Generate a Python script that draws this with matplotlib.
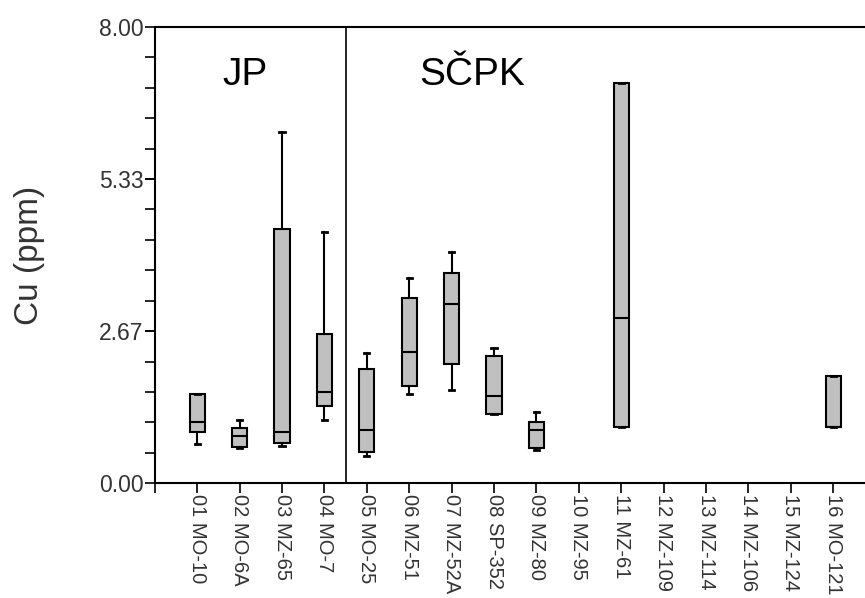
import numpy as np
import matplotlib
matplotlib.use("Agg")
import matplotlib.pyplot as plt
from matplotlib.ticker import MultipleLocator

plt.rcParams['font.family'] = ['Liberation Sans', 'DejaVu Sans']

# samples along the x axis
samples = ["01 MO-10", "02 MO-6A", "03 MZ-65", "04 MO-7", "05 MO-25",
           "06 MZ-51", "07 MZ-52A", "08 SP-352", "09 MZ-80", "10 MZ-95",
           "11 MZ-61", "12 MZ-109", "13 MZ-114", "14 MZ-106", "15 MZ-124",
           "16 MO-121"]

# box statistics (nan = no data for that sample)
nan = np.nan
whis_lo = [0.68, 0.61, 0.65, 1.11, 0.47, 1.56, 1.63, 1.21, 0.58, nan, 0.99, nan, nan, nan, nan, 0.99]
q1      = [0.89, 0.64, 0.71, 1.35, 0.54, 1.70, 2.09, 1.21, 0.61, nan, 0.99, nan, nan, nan, nan, 0.99]
median  = [1.08, 0.83, 0.90, 1.59, 0.93, 2.30, 3.14, 1.53, 0.93, nan, 2.90, nan, nan, nan, nan, 0.99]
q3      = [1.57, 0.96, 4.45, 2.61, 2.01, 3.25, 3.68, 2.23, 1.08, nan, 7.01, nan, nan, nan, nan, 1.88]
whis_hi = [1.57, 1.10, 6.16, 4.41, 2.29, 3.60, 4.06, 2.37, 1.24, nan, 7.01, nan, nan, nan, nan, 1.88]

y_ticks = [0.0, 2.67, 5.33, 8.0]
groups = ["JP", "SČPK"]

fig = plt.figure(figsize=(8.65, 5.98), dpi=100)
ax = fig.add_axes([0.179, 0.192, 0.821, 0.763])

stats, pos = [], []
for i in range(len(samples)):
    if np.isnan(median[i]):
        continue
    stats.append(dict(whislo=whis_lo[i], q1=q1[i], med=median[i],
                      q3=q3[i], whishi=whis_hi[i], fliers=[]))
    pos.append(i + 1)

ax.bxp(stats, positions=pos, widths=0.36, patch_artist=True, showfliers=False,
       boxprops=dict(facecolor='#c0c0c0', edgecolor='black', linewidth=1.5),
       medianprops=dict(color='black', linewidth=1.5),
       whiskerprops=dict(color='black', linewidth=1.5),
       capprops=dict(color='black', linewidth=2.0),
       capwidths=0.12, manage_ticks=False)

# group separator
ax.axvline(4.5, color='black', linewidth=1.2)
ax.text(2.12, 7.16, groups[0], fontsize=28, ha='center', va='center')
ax.text(7.48, 7.16, groups[1], fontsize=28, ha='center', va='center')

ax.set_xlim(0, 16.75)
ax.set_ylim(0, 8)
ax.set_yticks(y_ticks)
ax.set_yticklabels(["%.2f" % v for v in y_ticks], fontsize=16.5, color='#333333')
ax.yaxis.set_minor_locator(MultipleLocator(8 / 15))
ax.set_xticks(range(0, len(samples) + 1))
ax.set_xticklabels([""] + samples, rotation=-90, fontsize=14.5, color='#333333')
ax.tick_params(axis='both', which='both', direction='out', length=7, width=1.2)
ax.tick_params(axis='x', pad=1)
ax.tick_params(axis='y', pad=1)

for side in ['left', 'bottom', 'top']:
    ax.spines[side].set_linewidth(1.5)
ax.spines['right'].set_visible(False)

ax.set_ylabel("Cu (ppm)", fontsize=24, color='#333333')
ax.yaxis.set_label_coords(-0.155, 0.5)

fig.savefig("out.png", dpi=100)
